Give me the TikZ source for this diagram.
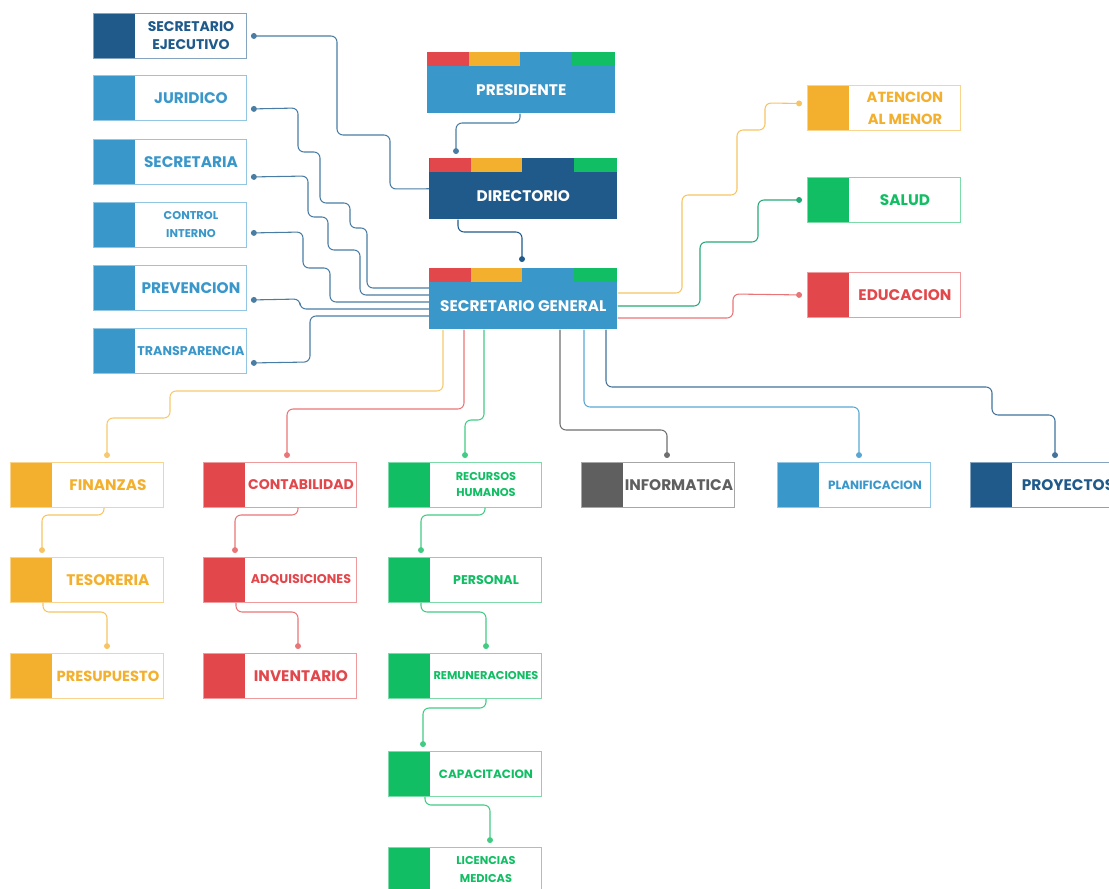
\documentclass[tikz,border=0pt]{standalone}
\usepackage{fontspec}
\setmainfont{Poppins}
\usetikzlibrary{arrows.meta}

\definecolor{cdark}{HTML}{1F5A8B}
\definecolor{cblue}{HTML}{3A97CA}
\definecolor{cred}{HTML}{E2474B}
\definecolor{corange}{HTML}{F3B02F}
\definecolor{cgreen}{HTML}{12BE64}
\definecolor{cgray}{HTML}{5F5F5F}
\definecolor{cline}{HTML}{4A7DA3}

\newcommand{\fsz}[2]{\fontsize{#1}{#2}\selectfont\bfseries}
\newcommand{\lbl}[1]{\hspace*{31.5pt}\parbox{83.25pt}{\centering #1}}

\tikzset{
  unit/.style={draw=#1!55, line width=.7pt, fill=white, minimum width=114.75pt, minimum height=33.75pt,
    inner sep=0pt, anchor=north west,
    path picture={\fill[#1] (path picture bounding box.north west) rectangle ([xshift=31.5pt]path picture bounding box.south west);}},
  head/.style={fill=#1, minimum width=141pt, minimum height=45.75pt, inner sep=0pt, anchor=north west,
    text=white, font=\fsz{11.5}{14}, text height=18.5pt, text depth=0pt,
    path picture={
      \fill[cred] (path picture bounding box.north west) rectangle ++(31.5pt,-10.5pt);
      \fill[corange] ([xshift=31.5pt]path picture bounding box.north west) rectangle ++(38.25pt,-10.5pt);
      \fill[cgreen] ([xshift=108.75pt]path picture bounding box.north west) rectangle ([yshift=-10.5pt]path picture bounding box.north east);}},
  link/.style={draw=#1, line width=.8pt, rounded corners=4.5pt, -{Circle[length=4.4pt]}},
}

\begin{document}
\begin{tikzpicture}[x=0.75pt, y=-0.75pt]
\useasboundingbox (0,0) rectangle (1109,888);
\clip (0,0) rectangle (1109,888);

% top
\node[head=cblue] (pres) at (427,52) {PRESIDENTE};
\node[head=cdark] (dir) at (429,158) {DIRECTORIO};
\node[head=cblue] (sg) at (429,268) {SECRETARIO GENERAL};

% left column
\node[unit=cdark, text=cdark, font=\fsz{10.5}{13.5}] (ejec) at (93,13) {\lbl{SECRETARIO\\EJECUTIVO}};
\node[unit=cblue, text=cblue, font=\fsz{11.5}{14}] (jur) at (93,75) {\lbl{JURIDICO}};
\node[unit=cblue, text=cblue, font=\fsz{11.5}{14}] (secr) at (93,139) {\lbl{SECRETARIA}};
\node[unit=cblue, text=cblue, font=\fsz{8.5}{13.5}] (ctrl) at (93,202) {\lbl{CONTROL\\INTERNO}};
\node[unit=cblue, text=cblue, font=\fsz{11.5}{14}] (prev) at (93,265) {\lbl{PREVENCION}};
\node[unit=cblue, text=cblue, font=\fsz{9.5}{12}] (trans) at (93,328) {\lbl{TRANSPARENCIA}};

% right column
\node[unit=corange, text=corange, font=\fsz{11}{16.5}] (aten) at (807,85) {\lbl{ATENCION\\AL MENOR}};
\node[unit=cgreen, text=cgreen, font=\fsz{11.5}{14}] (salud) at (807,177) {\lbl{SALUD}};
\node[unit=cred, text=cred, font=\fsz{11.5}{14}] (educ) at (807,272) {\lbl{EDUCACION}};

% bottom rows
\node[unit=corange, text=corange, font=\fsz{11.5}{14}] (fin) at (10,462) {\lbl{FINANZAS}};
\node[unit=cred, text=cred, font=\fsz{10.5}{14}] (cont) at (203,462) {\lbl{CONTABILIDAD}};
\node[unit=cgreen, text=cgreen, font=\fsz{8.5}{12}] (rrhh) at (388,462) {\lbl{RECURSOS\\HUMANOS}};
\node[unit=cgray, text=cgray, font=\fsz{11.5}{14}] (info) at (581,462) {\lbl{INFORMATICA}};
\node[unit=cblue, text=cblue, font=\fsz{9}{12}] (plan) at (777,462) {\lbl{PLANIFICACION}};
\node[unit=cdark, text=cdark, font=\fsz{11.5}{14}] (proy) at (970,462) {\lbl{PROYECTOS}};

\node[unit=corange, text=corange, font=\fsz{11.5}{14}] (teso) at (10,557) {\lbl{TESORERIA}};
\node[unit=cred, text=cred, font=\fsz{9.5}{12}] (adq) at (203,557) {\lbl{ADQUISICIONES}};
\node[unit=cgreen, text=cgreen, font=\fsz{9.5}{12}] (pers) at (388,557) {\lbl{PERSONAL}};

\node[unit=corange, text=corange, font=\fsz{11}{14}] (presu) at (10,653) {\lbl{PRESUPUESTO}};
\node[unit=cred, text=cred, font=\fsz{11.5}{14}] (inv) at (203,653) {\lbl{INVENTARIO}};
\node[unit=cgreen, text=cgreen, font=\fsz{8.5}{12}] (remu) at (388,653) {\lbl{REMUNERACIONES}};

\node[unit=cgreen, text=cgreen, font=\fsz{9}{12}] (capa) at (388,751) {\lbl{CAPACITACION}};
\node[unit=cgreen, text=cgreen, font=\fsz{8.5}{13.5}] (lic) at (388,847) {\lbl{LICENCIAS\\MEDICAS}};

% top links
\draw[link=cline] (pres.south west) ++(93,0) -- (520,123) -- (456,123) -- ([shift={(27,-4)}]dir.north west);
\draw[link=cline] (dir.west) -- (390,189) -- (390,135) -- (337,135) -- (337,36) -- ([xshift=3pt]ejec.east);
\draw[link=cdark] (dir.south west) ++(29,0) -- (458,232) -- (522,232) -- ([shift={(93,-6)}]sg.north west);

% left links
\draw[link=cline] (sg.west |- 0,288) -- (367,288) -- (367,228) -- (350,228) -- (350,203) -- (320,203)
  -- (320,152) -- (298,152) -- (298,108) -- ([shift={(4,11)}]jur.east);
\draw[link=cline] (sg.west |- 0,295) -- (360,295) -- (360,250) -- (328,250) -- (328,217) -- (308,217)
  -- (308,176) -- ([shift={(4,15)}]secr.east);
\draw[link=cline] (sg.west |- 0,302) -- (330,302) -- (330,268) -- (303,268) -- (303,232) -- ([shift={(4,8)}]ctrl.east);
\draw[link=cline] (sg.west |- 0,309) -- (300,309) -- (300,299) -- ([shift={(4,12)}]prev.east);
\draw[link=cline] (sg.west |- 0,316) -- (310,316) -- (310,362) -- ([shift={(4,12)}]trans.east);

% right links
\draw[link=corange!75] (sg.east |- 0,293) -- (682,293) -- (682,195) -- (737,195) -- (737,130) -- (765,130)
  -- (765,103) -- ([shift={(-5,-4.5)}]aten.west);
\draw[link=cgreen!70!cline] (sg.east |- 0,306) -- (700,306) -- (700,242) -- (758,242) -- (758,200) -- ([xshift=-3.75pt]salud.west);
\draw[link=cred!75] (sg.east |- 0,318) -- (733,318) -- (733,294) -- ([xshift=-3.75pt]educ.west);

% down links
\draw[link=corange!70] (sg.south west) ++(14,0) -- (443,391) -- (170,391) -- (170,418) -- (107,418) -- ([shift={(97,-4)}]fin.north west);
\draw[link=cred!75] (sg.south west) ++(35,0) -- (464,409) -- (287,409) -- ([shift={(84,-4)}]cont.north west);
\draw[link=cgreen!80] (sg.south west) ++(55,0) -- (484,420) -- (465,420) -- ([shift={(77,-4)}]rrhh.north west);
\draw[link=cgray!90] (sg.south west) ++(131,0) -- (560,430) -- (667,430) -- ([shift={(86,-4)}]info.north west);
\draw[link=cblue!85] (sg.south west) ++(155,0) -- (584,407) -- (859,407) -- ([shift={(82,-4)}]plan.north west);
\draw[link=cdark!85] (sg.south west) ++(177,0) -- (606,387) -- (992,387) -- (992,415) -- (1055,415) -- ([shift={(85,-4)}]proy.north west);

% chains
\draw[link=corange!75] (fin.south west) ++(94,0) -- (104,515) -- (42,515) -- ([shift={(32,-4)}]teso.north west);
\draw[link=corange!75] (teso.south west) ++(33,0) -- (43,612) -- (107,612) -- ([shift={(97,-4)}]presu.north west);
\draw[link=cred!75] (cont.south west) ++(95,0) -- (298,515) -- (235,515) -- ([shift={(32,-4)}]adq.north west);
\draw[link=cred!75] (adq.south west) ++(33,0) -- (236,612) -- (298,612) -- ([shift={(95,-4)}]inv.north west);
\draw[link=cgreen!80] (rrhh.south west) ++(97,0) -- (485,515) -- (421,515) -- ([shift={(33,-4)}]pers.north west);
\draw[link=cgreen!80] (pers.south west) ++(33,0) -- (421,612) -- (486,612) -- ([shift={(98,-4)}]remu.north west);
\draw[link=cgreen!80] (remu.south west) ++(98,0) -- (486,708) -- (423,708) -- ([shift={(35,-4)}]capa.north west);
\draw[link=cgreen!80] (capa.south west) ++(37,0) -- (425,805) -- (490,805) -- ([shift={(102,-4)}]lic.north west);

\end{tikzpicture}
\end{document}
